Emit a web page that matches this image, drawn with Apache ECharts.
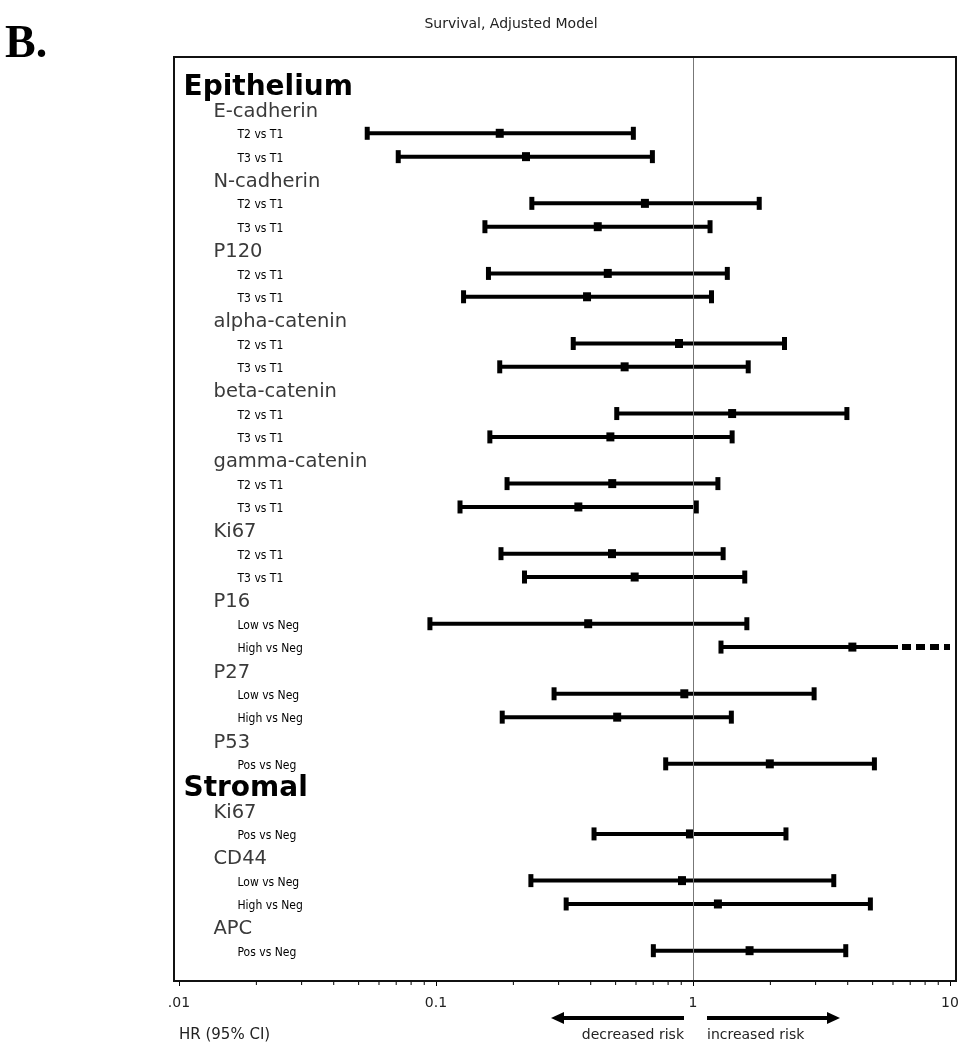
<!DOCTYPE html>
<html><head><meta charset="utf-8">
<script src="https://cdn.jsdelivr.net/npm/echarts@6/dist/echarts.min.js"></script>
<style>html,body{margin:0;padding:0;background:#fff}#c{width:963px;height:1050px}</style>
</head><body><div id="c"></div>
<script>
// ---------------- data ----------------
const rowLabels = [
  'Epithelium','E-cadherin','T2 vs T1','T3 vs T1',
  'N-cadherin','T2 vs T1','T3 vs T1',
  'P120','T2 vs T1','T3 vs T1',
  'alpha-catenin','T2 vs T1','T3 vs T1',
  'beta-catenin','T2 vs T1','T3 vs T1',
  'gamma-catenin','T2 vs T1','T3 vs T1',
  'Ki67','T2 vs T1','T3 vs T1',
  'P16','Low vs Neg','High vs Neg',
  'P27','Low vs Neg','High vs Neg',
  'P53','Pos vs Neg',
  'Stromal','Ki67','Pos vs Neg',
  'CD44','Low vs Neg','High vs Neg',
  'APC','Pos vs Neg'
];
// 0 = section header, 1 = marker, 2 = comparison
const rowLevels = [0,1,2,2, 1,2,2, 1,2,2, 1,2,2, 1,2,2, 1,2,2, 1,2,2, 1,2,2, 1,2,2, 1,2, 0,1,2, 1,2,2, 1,2];
const hrEstimate = [null,null,0.177,0.224, null,0.650,0.426, null,0.466,0.387, null,0.882,0.542,
  null,1.42,0.477, null,0.485,0.358, null,0.484,0.593, null,0.391,4.17, null,0.925,0.507, null,1.99,
  null,null,0.973, null,0.906,1.25, null,1.66];
const ciLower = [null,null,0.054,0.0713, null,0.236,0.155, null,0.160,0.128, null,0.342,0.177,
  null,0.505,0.162, null,0.189,0.124, null,0.179,0.221, null,0.0947,1.285, null,0.288,0.181, null,0.783,
  null,null,0.412, null,0.234,0.321, null,0.701];
const ciUpper = [null,null,0.586,0.695, null,1.81,1.165, null,1.36,1.18, null,2.27,1.64,
  null,3.97,1.42, null,1.25,1.03, null,1.31,1.59, null,1.62,10, null,2.96,1.41, null,5.08,
  null,null,2.30, null,3.53,4.90, null,3.93];
// upper limit runs past the axis (drawn dashed)
const upperTruncated = [0,0,0,0, 0,0,0, 0,0,0, 0,0,0, 0,0,0, 0,0,0, 0,0,0, 0,0,1, 0,0,0, 0,0, 0,0,0, 0,0,0, 0,0];
const xTickValues = [0.01, 0.1, 1, 10];
const xTickLabels = ['.01', '0.1', '1', '10'];
const xMinorTicks = [0.02,0.03,0.04,0.05,0.06,0.07,0.08,0.09, 0.2,0.3,0.4,0.5,0.6,0.7,0.8,0.9, 2,3,4,5,6,7,8,9];
const referenceHR = 1;

// ---------------- chart ----------------
const chart = echarts.init(document.getElementById('c'), null, {renderer: 'canvas'});

const barData = [];
hrEstimate.forEach((v, i) => {
  if (v !== null) barData.push([ciLower[i], ciUpper[i], v, i, upperTruncated[i]]);
});

const levelKeys = ['h', 'm', 'c'];
const labelData = rowLabels.map((t, i) => [xTickValues[0], i]);

function renderBar(params, api) {
  const row = api.value(3);
  const pL = api.coord([api.value(0), row]);
  const pH = api.coord([api.value(1), row]);
  const pE = api.coord([api.value(2), row]);
  const trunc = api.value(4) === 1;
  const y = pL[1];
  const solidEnd = trunc ? pH[0] - 52 : pH[0];
  const children = [
    {type: 'line', shape: {x1: pL[0], y1: y, x2: solidEnd, y2: y}, style: {stroke: '#000', lineWidth: 4}},
    {type: 'rect', shape: {x: pL[0] - 2.5, y: y - 6.5, width: 5, height: 13}, style: {fill: '#000'}},
    {type: 'rect', shape: {x: pE[0] - 4, y: y - 4.5, width: 8, height: 9}, style: {fill: '#000'}}
  ];
  if (trunc) {
    children.push({type: 'line', shape: {x1: solidEnd + 4, y1: y, x2: pH[0], y2: y},
      style: {stroke: '#000', lineWidth: 6, lineDash: [9, 5]}});
  } else {
    children.push({type: 'rect', shape: {x: pH[0] - 2.5, y: y - 6.5, width: 5, height: 13}, style: {fill: '#000'}});
  }
  return {type: 'group', children};
}

function renderMinorTick(params, api) {
  const cs = params.coordSys;
  const x = api.coord([api.value(0), 0])[0];
  const yb = cs.y + cs.height;
  return {type: 'line', shape: {x1: x, y1: yb, x2: x, y2: yb + 4}, style: {stroke: '#000', lineWidth: 1}};
}

const option = {
  backgroundColor: '#fff',
  animation: false,
  title: {
    text: 'Survival, Adjusted Model',
    left: 506, top: 12, textAlign: 'center',
    textStyle: {fontFamily: 'DejaVu Sans', fontWeight: 'normal', fontSize: 14, color: '#222'}
  },
  grid: {left: 179, right: 13, top: 57, bottom: 69, containLabel: false},
  xAxis: {
    type: 'log', logBase: 10, min: 0.01, max: 10,
    axisLine: {show: false, onZero: false},
    axisTick: {show: true, length: 5, lineStyle: {color: '#000', width: 1}},
    splitLine: {show: false},
    axisLabel: {
      margin: 15, fontFamily: 'DejaVu Sans', fontWeight: 'normal', fontSize: 14, color: '#222',
      formatter: v => {
        const k = Math.round(Math.log10(v)) + 2;
        return xTickLabels[k] !== undefined ? xTickLabels[k] : '';
      }
    }
  },
  yAxis: {
    type: 'value', inverse: true, min: -1.267, max: 38.298, show: false,
    splitLine: {show: false}
  },
  series: [
    {
      type: 'scatter', z: 1, symbolSize: 1, itemStyle: {color: 'rgba(0,0,0,0)'}, silent: true, clip: false,
      data: labelData,
      label: {
        show: true, position: 'right', distance: 0, verticalAlign: 'middle', opacity: 1,
        formatter: p => '{' + levelKeys[rowLevels[p.dataIndex]] + '|' + rowLabels[p.dataIndex] + '}',
        rich: {
          h: {fontFamily: 'DejaVu Sans', fontWeight: 'bold', fontSize: 28, color: '#000', padding: [3, 0, 0, 4]},
          m: {fontFamily: 'DejaVu Sans', fontWeight: 'normal', fontSize: 19.5, color: '#3a3a3a', padding: [4, 0, 0, 34]},
          c: {fontFamily: 'DejaVu Sans Condensed', fontWeight: 'normal', fontSize: 12, color: '#000', padding: [4, 0, 0, 58]}
        }
      },
      labelLayout: {hideOverlap: false},
      markLine: {
        silent: true, symbol: 'none', label: {show: false},
        lineStyle: {color: '#777', width: 1, type: 'solid', opacity: 1},
        data: [{xAxis: referenceHR}]
      }
    },
    {
      type: 'custom', z: 3, renderItem: renderBar, data: barData, silent: true,
      encode: {x: [0, 1, 2], y: 3}
    },
    {
      type: 'custom', z: 2, renderItem: renderMinorTick, data: xMinorTicks.map(v => [v]),
      silent: true, encode: {x: 0}
    }
  ],
  graphic: [
    {type: 'rect', z: 10, silent: true, shape: {x: 174, y: 57, width: 782, height: 924},
      style: {fill: 'none', stroke: '#111', lineWidth: 2}},
    {type: 'text', left: 5, top: 22, silent: true,
      style: {text: 'B.', font: 'bold 46px "Liberation Serif"', fill: '#000'}},
    {type: 'text', x: 179, y: 1035, silent: true,
      style: {text: 'HR (95% CI)', font: 'normal 15px "DejaVu Sans"', fill: '#222', verticalAlign: 'middle'}},
    {type: 'line', silent: true, shape: {x1: 684, y1: 1018, x2: 560, y2: 1018}, style: {stroke: '#000', lineWidth: 4}},
    {type: 'polygon', silent: true, shape: {points: [[551, 1018], [564, 1012], [564, 1024]]}, style: {fill: '#000'}},
    {type: 'line', silent: true, shape: {x1: 707, y1: 1018, x2: 831, y2: 1018}, style: {stroke: '#000', lineWidth: 4}},
    {type: 'polygon', silent: true, shape: {points: [[840, 1018], [827, 1012], [827, 1024]]}, style: {fill: '#000'}},
    {type: 'text', x: 684, y: 1035, silent: true,
      style: {text: 'decreased risk', font: 'normal 14px "DejaVu Sans"', fill: '#222', align: 'right', verticalAlign: 'middle'}},
    {type: 'text', x: 707, y: 1035, silent: true,
      style: {text: 'increased risk', font: 'normal 14px "DejaVu Sans"', fill: '#222', align: 'left', verticalAlign: 'middle'}}
  ]
};
chart.setOption(option);
</script>
</body></html>
